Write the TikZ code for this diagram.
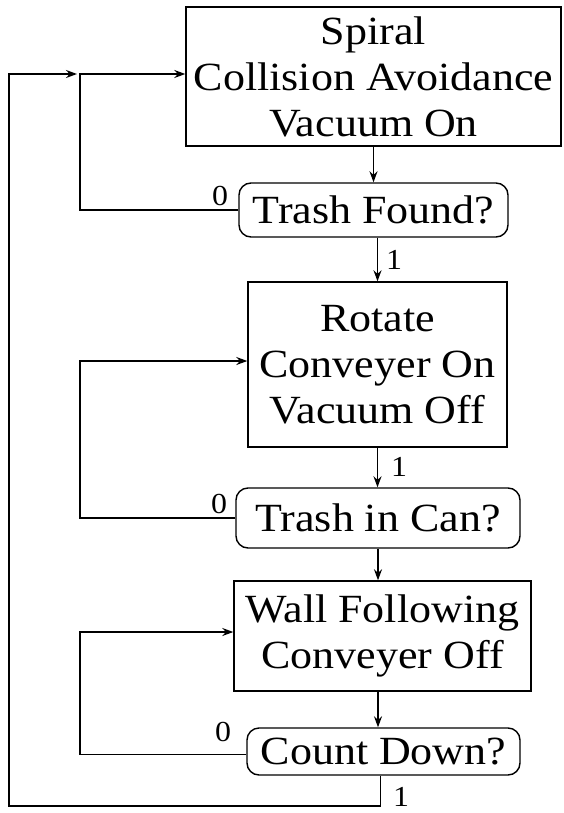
\documentclass[tikz,border=0pt]{standalone}
\usepackage{fontspec}
\setmainfont[FakeStretch=1.1]{Liberation Serif}
\usetikzlibrary{arrows.meta,calc}
\begin{document}
\begin{tikzpicture}[x=1pt,y=-1pt, line width=1.4pt,
 state/.style={draw, rectangle, align=center, inner sep=0pt, font=\fontsize{40}{46}\selectfont},
 test/.style={draw, rectangle, rounded corners=12pt, inner sep=0pt, font=\fontsize{40}{46}\selectfont},
 lbl/.style={font=\fontsize{29}{30}\selectfont, inner sep=0pt},
 arr/.style={-{Stealth[length=11pt,width=8pt]}}]
\useasboundingbox (0,0) rectangle (563,813);

\node[state, minimum width=375pt, minimum height=139pt] (s1) at (373.5,76.5) {Spiral\\Collision Avoidance\\Vacuum On};
\node[test, minimum width=269pt, minimum height=54pt] (d1) at (373.5,210) {Trash Found?};
\node[state, minimum width=259pt, minimum height=165pt] (s2) at (377.5,364.5) {Rotate\\Conveyer On\\Vacuum Off};
\node[test, minimum width=284pt, minimum height=60pt] (d2) at (378,518) {Trash in Can?};
\node[state, minimum width=297pt, minimum height=110pt] (s3) at (382.5,636) {Wall Following\\Conveyer Off};
\node[test, minimum width=273pt, minimum height=47pt] (d3) at (383.5,751.5) {Count Down?};

\coordinate (j1) at (80,74);
\coordinate (j2) at (80,361);
\coordinate (j3) at (80,632);
\coordinate (ob) at (9,806);

\draw[arr] (s1.south) -- (d1.north);
\draw[arr] (d1.south -| s2.north) -- (s2.north);
\draw[arr] (s2.south) -- (s2.south |- d2.north);
\draw[arr] (d2.south) -- (d2.south |- s3.north);
\draw[arr] (s3.south -| d2.south) -- (d2.south |- d3.north);

\draw[arr] (d1.west) -| (j1) -- (j1 -| s1.west);
\draw[arr] (d2.west) -| (j2) -- (j2 -| s2.west);
\draw[arr] ([yshift=-3pt]d3.west) -| (j3) -- (j3 -| s3.west);
\draw[arr, shorten >=3pt] ([xshift=-3pt]d3.south) |- (ob) -- (ob |- j1) -- (j1);

\node[lbl] (z1) at (220,196) {0};
\node[lbl] (z2) at (219,504) {0};
\node[lbl] (z3) at (223,732) {0};
\node[lbl] (o1) at (394,260) {1};
\node[lbl] (o2) at (399,467) {1};
\node[lbl] (o3) at (401,797) {1};
\end{tikzpicture}
\end{document}
